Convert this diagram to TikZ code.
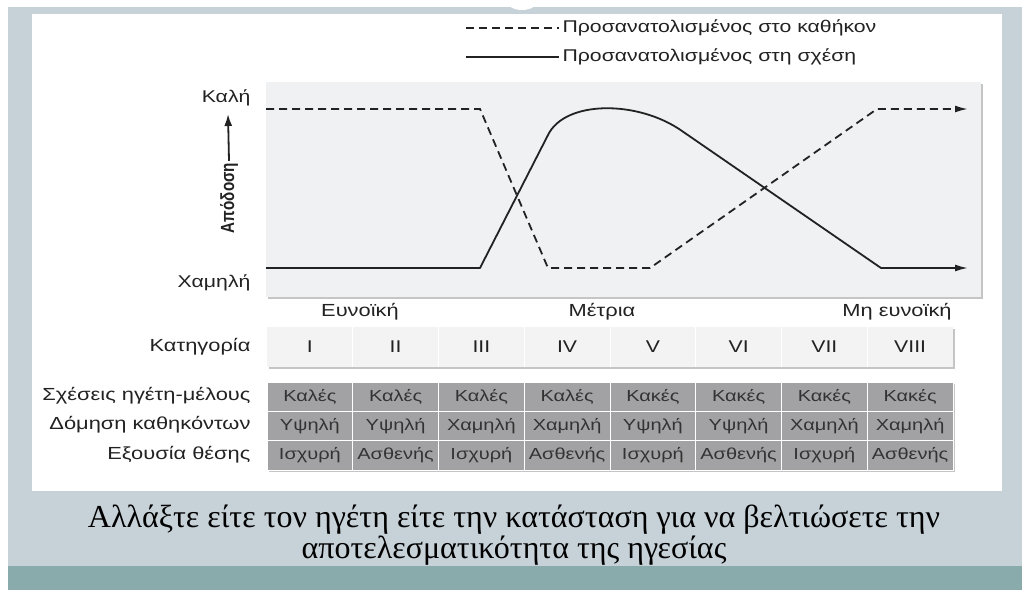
\documentclass[tikz,border=0pt]{standalone}
\usepackage{fontspec}
\setmainfont{Liberation Serif}
\setsansfont[FakeStretch=1.25]{Liberation Sans}
\newfontfamily\narrowsans[FakeStretch=0.8]{Liberation Sans Bold}
\usetikzlibrary{arrows.meta,shadows,positioning}

\definecolor{slidegrey}{HTML}{C6D1D8}
\definecolor{slideteal}{HTML}{8AABAB}
\definecolor{chartbg}{HTML}{F0F1F2}
\definecolor{catbg}{HTML}{F3F3F4}
\definecolor{cellgrey}{HTML}{A2A2A4}
\definecolor{ink}{HTML}{222222}

\begin{document}
\begin{tikzpicture}
    [
    x=1pt,y=-1pt,
    every node/.style={font=\sffamily\fontsize{17}{17}\selectfont,text=ink},
    curve/.style={line width=1.8pt,draw=ink},
    task/.style={curve,dash pattern=on 8pt off 5pt},
    tip/.style={-{Latex[length=13pt,width=7pt]}},
    rowlabel/.style={anchor=east,font=\sffamily\fontsize{17.5}{17.5}\selectfont},
    catcell/.style={minimum width=85.75pt,minimum height=40pt,inner sep=0pt},
    infocell/.style={fill=cellgrey,draw=white,line width=0.8pt,minimum width=85.75pt,minimum height=29.3pt,inner sep=0pt,
      font=\sffamily\fontsize{16}{16}\selectfont,text=black!80},
    boxshadow/.style={drop shadow={shadow xshift=2pt,shadow yshift=-2pt,opacity=.45}}
    ]
    \useasboundingbox (0,0) rectangle (1029,590);
    % slide
    \fill[white] (0,0) rectangle (1029,590);
    \fill[slidegrey] (8,7) rectangle (1022,567);
    \fill[slideteal] (8,566) rectangle (1022,590);
    \fill[white] (522,0) ellipse [x radius=16,y radius=10];
    \fill[white] (32,14) rectangle (1002,491);

    % legend
    \node (leg1) at (559,28) [anchor=west] {Προσανατολισμένος στο καθήκον};
    \node (leg2) at (559,57) [anchor=west] {Προσανατολισμένος στη σχέση};
    \coordinate (leg1s) at (466,28);
    \coordinate (leg2s) at (466,57);
    \draw [task,line width=1.5pt] (leg1s) -- (leg1.west);
    \draw [curve,line width=1.5pt] (leg2s) -- (leg2.west);

    % chart
    \fill[chartbg,boxshadow] (266,82) rectangle (981,297);
    \node (good) at (254,98) [rowlabel,font=\sffamily\fontsize{17}{17}\selectfont] {Καλή};
    \node (low) at (254,283) [rowlabel,font=\sffamily\fontsize{17}{17}\selectfont] {Χαμηλή};
    \node (perf) at (229,198) [rotate=90,inner sep=2pt,font=\narrowsans\fontsize{19}{19}\selectfont] {Απόδοση};
    \coordinate (perftip) at (228,114);
    \draw [line width=1.8pt,draw=ink,-{Latex[length=12pt,width=8pt]}] (perf.east) -- (perftip);

    \coordinate (t0) at (266,109);
    \coordinate (t1) at (480,109);
    \coordinate (t2) at (548,268);
    \coordinate (t3) at (650,268);
    \coordinate (t4) at (877,109);
    \coordinate (t5) at (968,109);
    \coordinate (r0) at (266,268);
    \coordinate (r1) at (480,268);
    \coordinate (r2) at (548,135);
    \coordinate (r3) at (682,131);
    \coordinate (r4) at (881,268);
    \coordinate (r5) at (968,268);
    \draw [task,tip] (t0) -- (t1) -- (t2) -- (t3) -- (t4) -- (t5);
    \draw [curve,tip,line join=round] (r0) -- (r1) -- (r2) .. controls (565,100) and (638,100) .. (r3) -- (r4) -- (r5);

    \node (fav) at (360,312) [font=\sffamily\fontsize{17.5}{17.5}\selectfont] {Ευνοϊκή};
    \node (mid) at (602,312) [font=\sffamily\fontsize{17.5}{17.5}\selectfont] {Μέτρια};
    \node (unfav) at (897,312) [font=\sffamily\fontsize{17.5}{17.5}\selectfont] {Μη ευνοϊκή};

    % categories
    \fill[catbg,boxshadow] (267,327) rectangle (953,367);
    \node (catlabel) at (254,347) [rowlabel] {Κατηγορία};
    \foreach \r [count=\i] in {I,II,III,IV,V,VI,VII,VIII}
      \node (cat\i) at ({267+85.75*(\i-0.5)},347) [catcell] {\r};
    \foreach \i in {1,...,7}
      \draw [white,line width=1pt] (cat\i.north east) -- (cat\i.south east);

    % situation table
    \fill[cellgrey,boxshadow] (267,382) rectangle (953,470);
    \node (rellabel) at (254,396) [rowlabel] {Σχέσεις ηγέτη-μέλους};
    \node (tasklabel) at (254,425) [rowlabel] {Δόμηση καθηκόντων};
    \node (powlabel) at (254,455) [rowlabel] {Εξουσία θέσης};
    \foreach \a/\b/\c [count=\i] in {Καλές/Υψηλή/Ισχυρή,Καλές/Υψηλή/Ασθενής,Καλές/Χαμηλή/Ισχυρή,Καλές/Χαμηλή/Ασθενής,Κακές/Υψηλή/Ισχυρή,Κακές/Υψηλή/Ασθενής,Κακές/Χαμηλή/Ισχυρή,Κακές/Χαμηλή/Ασθενής}
    {
      \node (rel\i) at ({267+85.75*(\i-0.5)},396.65) [infocell] {\a};
      \node (str\i) at ({267+85.75*(\i-0.5)},426) [infocell] {\b};
      \node (pow\i) at ({267+85.75*(\i-0.5)},455.35) [infocell] {\c};
    }

    % caption
    \node (caption) at (514,535) [align=center,font=\rmfamily\fontsize{32}{29}\selectfont,text=black]
      {Αλλάξτε είτε τον ηγέτη είτε την κατάσταση για να βελτιώσετε την\\αποτελεσματικότητα της ηγεσίας};
\end{tikzpicture}
\end{document}
